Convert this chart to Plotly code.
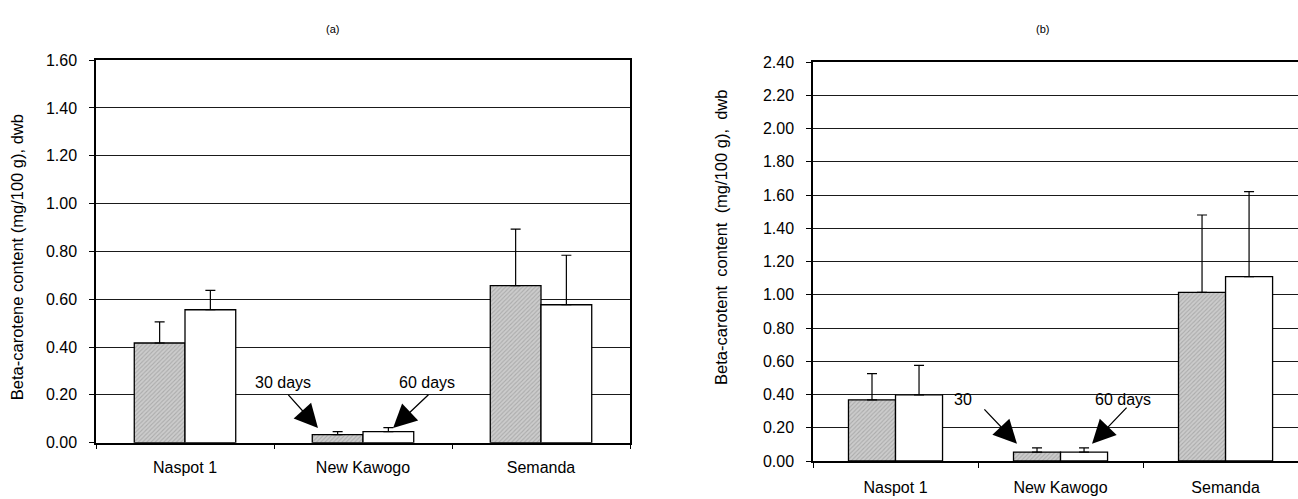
import plotly.graph_objects as go

# ---------------- data ----------------
categories = ["Naspot 1", "New Kawogo", "Semanda"]

a_30 = [0.417, 0.034, 0.657]
a_30_err = [0.088, 0.012, 0.236]
a_60 = [0.556, 0.046, 0.577]
a_60_err = [0.081, 0.017, 0.207]

b_30 = [0.368, 0.054, 1.014]
b_30_err = [0.158, 0.025, 0.466]
b_60 = [0.398, 0.054, 1.109]
b_60_err = [0.178, 0.025, 0.512]

a_ticks = [0.0, 0.2, 0.4, 0.6, 0.8, 1.0, 1.2, 1.4, 1.6]
b_ticks = [0.0, 0.2, 0.4, 0.6, 0.8, 1.0, 1.2, 1.4, 1.6, 1.8, 2.0, 2.2, 2.4]

W, H = 1298, 499
FONT = "Liberation Sans, Arial, sans-serif"

gray_marker = dict(
    color="#c4c4c4",
    line=dict(color="black", width=1.3),
    pattern=dict(shape="/", fgcolor="#8a8a8a", bgcolor="#cccccc", size=3, solidity=0.35),
)
white_marker = dict(color="white", line=dict(color="black", width=1.3))


def err(vals):
    return dict(type="data", array=vals, arrayminus=[0] * len(vals), symmetric=False,
                color="black", thickness=1.2, width=5)


fig = go.Figure()
fig.add_trace(go.Bar(x=categories, y=a_30, error_y=err(a_30_err), marker=gray_marker,
                     xaxis="x", yaxis="y", name="30 days", showlegend=False))
fig.add_trace(go.Bar(x=categories, y=a_60, error_y=err(a_60_err), marker=white_marker,
                     xaxis="x", yaxis="y", name="60 days", showlegend=False))
fig.add_trace(go.Bar(x=categories, y=b_30, error_y=err(b_30_err), marker=gray_marker,
                     xaxis="x2", yaxis="y2", name="30 days", showlegend=False))
fig.add_trace(go.Bar(x=categories, y=b_60, error_y=err(b_60_err), marker=white_marker,
                     xaxis="x2", yaxis="y2", name="60 days", showlegend=False))

axis_common_x = dict(
    type="category", showline=True, linecolor="black", linewidth=1.5, mirror=True,
    ticks="outside", ticklen=5, tickcolor="black", tickwidth=1, tickson="boundaries",
    showgrid=False, zeroline=False, fixedrange=True,
    tickfont=dict(family=FONT, size=16, color="black"), ticklabelstandoff=9,
)
axis_common_y = dict(
    showline=True, linecolor="black", linewidth=1.5,
    ticks="outside", ticklen=5, tickcolor="black", tickwidth=1,
    showgrid=True, gridcolor="#1a1a1a", gridwidth=1, zeroline=False,
    tickformat=".2f", tickfont=dict(family=FONT, size=16, color="black"),
    ticklabelstandoff=9,
)

fig.update_layout(
    width=W, height=H, margin=dict(l=0, r=0, t=0, b=0),
    paper_bgcolor="white", plot_bgcolor="white",
    barmode="group", bargap=0.43, bargroupgap=0,
    font=dict(family=FONT, color="black"),
    xaxis=dict(axis_common_x, domain=[96 / W, 630 / W], range=[-0.5, 2.5], anchor="y"),
    yaxis=dict(axis_common_y, domain=[(H - 450) / H, (H - 54) / H], range=[0, 1.6],
               tickvals=a_ticks, mirror=True, anchor="x"),
    xaxis2=dict(axis_common_x, domain=[813 / W, 1.0], range=[-0.5, 2.439], anchor="y2",
                ticklabelstandoff=11),
    yaxis2=dict(axis_common_y, domain=[(H - 469) / H, (H - 56) / H], range=[0, 2.4],
                tickvals=b_ticks, mirror=False, anchor="x2"),
)

C = dict(xanchor="center", yanchor="middle", showarrow=False)
annots = []
# panel titles
annots.append(dict(C, text="(a)", xref="paper", yref="paper", x=332 / W, y=1 - 22 / H,
                   font=dict(family=FONT, size=11)))
annots.append(dict(C, text="(b)", xref="paper", yref="paper", x=1042 / W, y=1 - 22 / H,
                   font=dict(family=FONT, size=11)))
# y titles
annots.append(dict(C, text="Beta-carotene content (mg/100 g), dwb", xref="paper", yref="paper",
                   x=17 / W, y=1 - 258 / H, textangle=-90,
                   font=dict(family=FONT, size=16.5)))
annots.append(dict(C, text="Beta-carotent  content  (mg/100 g),  dwb", xref="paper", yref="paper",
                   x=721 / W, y=1 - 238 / H, textangle=-90,
                   font=dict(family=FONT, size=16.5)))

arrow_style = dict(showarrow=True, arrowhead=2, arrowsize=3.6, arrowwidth=1.3,
                   arrowcolor="black", text="", standoff=0, startstandoff=0)
# panel a labels and arrows
annots.append(dict(C, text="30 days", xref="x", yref="y", x=0.551, y=0.25,
                   font=dict(family=FONT, size=16)))
annots.append(dict(C, text="60 days", xref="x", yref="y", x=1.360, y=0.25,
                   font=dict(family=FONT, size=16)))
annots.append(dict(arrow_style, xref="x", yref="y", axref="x", ayref="y",
                   x=0.747, y=0.061, ax=0.573, ay=0.206))
annots.append(dict(arrow_style, xref="x", yref="y", axref="x", ayref="y",
                   x=1.169, y=0.061, ax=1.376, ay=0.206))
# panel b labels and arrows
annots.append(dict(C, text="30", xref="x2", yref="y2", x=0.342, y=0.371, xanchor="left",
                   font=dict(family=FONT, size=16)))
annots.append(dict(C, text="60 days", xref="x2", yref="y2", x=1.379, y=0.371,
                   font=dict(family=FONT, size=16)))
annots.append(dict(arrow_style, xref="x2", yref="y2", axref="x2", ayref="y2",
                   x=0.736, y=0.104, ax=0.530, ay=0.32))
annots.append(dict(arrow_style, xref="x2", yref="y2", axref="x2", ayref="y2",
                   x=1.191, y=0.104, ax=1.409, ay=0.33))

fig.update_layout(annotations=annots)

fig.write_html("out.html", config={"displayModeBar": False})
